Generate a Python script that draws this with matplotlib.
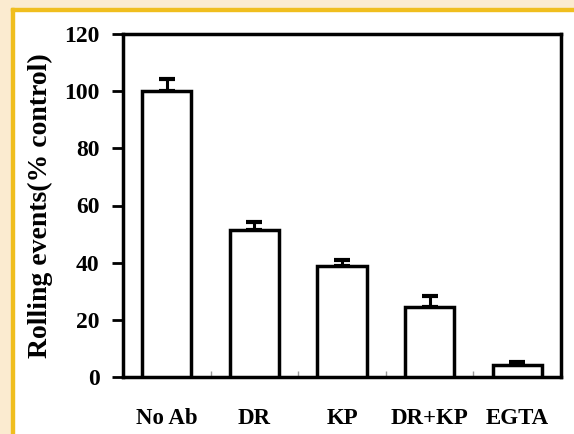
import matplotlib
matplotlib.use("Agg")
import matplotlib.pyplot as plt
from matplotlib.patches import Rectangle

categories = ["No Ab", "DR", "KP", "DR+KP", "EGTA"]
values = [100.0, 51.4, 38.9, 24.4, 4.1]
errors = [4.2, 2.8, 2.2, 3.9, 1.3]
yticks = [0, 20, 40, 60, 80, 100, 120]

plt.rcParams['font.family'] = ['Liberation Serif', 'DejaVu Serif']
plt.rcParams['font.weight'] = 'bold'

W, H = 574, 434
fig = plt.figure(figsize=(W / 100, H / 100), dpi=100)
fig.patch.set_facecolor("white")

# yellow frame at the top-left (page decoration)
fill = "#FBEBD0"
edge = "#F0BE1E"
fig.patches.append(Rectangle((0, 1 - 8 / H), 1, 8 / H, transform=fig.transFigure, color=fill, zorder=0))
fig.patches.append(Rectangle((0, 0), 11 / W, 1, transform=fig.transFigure, color=fill, zorder=0))
fig.patches.append(Rectangle((11 / W, 1 - 11 / H), 1, 3 / H, transform=fig.transFigure, color=edge, zorder=0))
fig.patches.append(Rectangle((11 / W, 0), 3 / W, 1 - 8 / H, transform=fig.transFigure, color=edge, zorder=0))

ax = fig.add_axes([123 / W, 1 - 377 / H, (561 - 123) / W, (377 - 34) / H])
ax.set_facecolor("white")

x = list(range(len(categories)))
ax.bar(x, values, width=0.56, color="white", edgecolor="black", linewidth=2.5, zorder=3)
ax.errorbar(x, values, yerr=[[0] * len(errors), errors], fmt="none", ecolor="black",
            elinewidth=2.2, capsize=5.5, capthick=3, zorder=2)

ax.set_xlim(-0.5, len(categories) - 0.5)
ax.set_ylim(0, 120)
ax.set_yticks(yticks)
ax.set_yticklabels([str(v) for v in yticks], fontsize=17, fontweight="bold")
ax.tick_params(axis="y", direction="out", length=8, width=2, pad=9)

ax.set_xticks(x)
ax.set_xticklabels(categories, fontsize=16.5, fontweight="bold")
ax.tick_params(axis="x", which="major", length=0, pad=22)
ax.set_xticks([i + 0.5 for i in x[:-1]], minor=True)
ax.tick_params(axis="x", which="minor", direction="in", length=4, width=1, color="#999999")

for side in ["left", "right", "top", "bottom"]:
    ax.spines[side].set_linewidth(2.5)
    ax.spines[side].set_color("black")

ax.set_ylabel("Rolling events(% control)", fontsize=20, fontweight="bold", labelpad=8)

fig.savefig("out.png", dpi=100, facecolor=fig.get_facecolor())
